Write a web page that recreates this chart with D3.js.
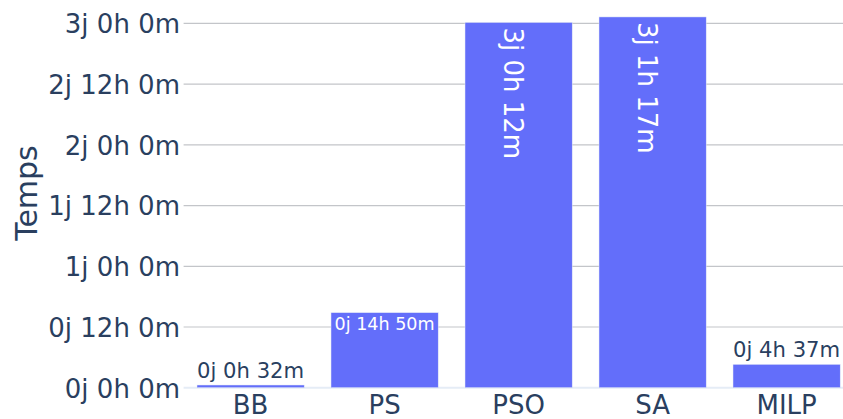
<!DOCTYPE html>
<html>
<head>
<meta charset="utf-8">
<script src="https://cdn.jsdelivr.net/npm/d3@7"></script>
<style>
  html, body { margin: 0; padding: 0; background: #fff; overflow: hidden; }
  svg { display: block; font-family: "DejaVu Sans", Verdana, sans-serif; }
</style>
</head>
<body>
<svg id="chart" width="843" height="419"></svg>
<script>
// ---- data ----
const categories = ["BB", "PS", "PSO", "SA", "MILP"];
const minutesValues = [32, 890, 4332, 4397, 277];   // durations in minutes
const yTickValues = [0, 720, 1440, 2160, 2880, 3600, 4320];
const yTitle = "Temps";

function fmt(v) {
  const d = Math.floor(v / 1440);
  const h = Math.floor((v % 1440) / 60);
  const m = Math.round(v % 60);
  return d + "j " + h + "h " + m + "m";
}

const W = 843, H = 419;
const plot = { left: 183.6, right: 853.6, top: -1.6, bottom: 387.7 };
const textColor = "#2a3f5f";
const barColor = "#636efa";
const baseSize = 26;

const svg = d3.select("#chart");

const x = d3.scaleBand().domain(categories)
  .range([plot.left, plot.right]).paddingInner(0.2).paddingOuter(0.1);
const y = d3.scaleLinear().domain([0, d3.max(minutesValues) * 1.05])
  .range([plot.bottom, plot.top]);

// grid
const grid = svg.append("g");
grid.selectAll("line").data(yTickValues.filter(v => v !== 0)).join("line")
  .attr("x1", plot.left).attr("x2", plot.right)
  .attr("y1", d => y(d)).attr("y2", d => y(d))
  .attr("stroke", "#c3c5c9").attr("stroke-width", 1.2);
svg.append("line")
  .attr("x1", plot.left).attr("x2", plot.right)
  .attr("y1", y(0)).attr("y2", y(0))
  .attr("stroke", "#e5ecf6").attr("stroke-width", 2);

// y axis labels
const yAxis = d3.axisLeft(y).tickValues(yTickValues).tickFormat(fmt).tickSize(0).tickPadding(0);
const yg = svg.append("g").attr("transform", `translate(${plot.left - 3.6},0)`).call(yAxis);
yg.select(".domain").remove();
yg.selectAll("text").attr("fill", textColor).attr("font-size", baseSize)
  .attr("font-family", "DejaVu Sans").attr("dy", "0.36em");

// x axis labels
const xAxis = d3.axisBottom(x).tickSize(0).tickPadding(0);
const xg = svg.append("g").attr("transform", `translate(0,${plot.bottom})`).call(xAxis);
xg.select(".domain").remove();
xg.selectAll("text").attr("fill", textColor).attr("font-size", baseSize)
  .attr("font-family", "DejaVu Sans").attr("dy", "0").attr("y", 26.5);

// y title
svg.append("text")
  .attr("transform", `translate(37,${(plot.top + plot.bottom) / 2}) rotate(-90)`)
  .attr("text-anchor", "middle")
  .attr("fill", textColor).attr("font-size", 30)
  .text(yTitle);

// bars
const data = categories.map((c, i) => ({ c, v: minutesValues[i] }));
svg.append("g").selectAll("rect").data(data).join("rect")
  .attr("x", d => x(d.c)).attr("width", x.bandwidth())
  .attr("y", d => y(d.v)).attr("height", d => y(0) - y(d.v))
  .attr("fill", barColor).attr("stroke", "#e5ecf6").attr("stroke-width", 0.5);

// bar labels
const lg = svg.append("g");
data.forEach(d => {
  const bw = x.bandwidth();
  const bh = y(0) - y(d.v);
  const cx = x(d.c) + bw / 2;
  const t = lg.append("text").attr("font-size", baseSize).text(fmt(d.v));
  const w26 = t.node().getComputedTextLength();
  if (bh > w26 + 12) {
    // rotated inside, reading downward
    t.attr("fill", "#fff").attr("text-anchor", "start")
      .attr("transform", `translate(${cx - 15},${y(d.v) + 5}) rotate(90)`);
  } else if (bh > 30) {
    const fs = baseSize * (bw - 7) / w26;
    t.attr("font-size", fs).attr("fill", "#fff").attr("text-anchor", "middle")
      .attr("x", cx).attr("y", y(d.v) + 4 + fs * 0.76);
  } else {
    const fs = baseSize * bw / w26;
    t.attr("font-size", fs).attr("fill", textColor).attr("text-anchor", "middle")
      .attr("x", cx).attr("y", y(d.v) - 7.5);
  }
});
</script>
</body>
</html>
